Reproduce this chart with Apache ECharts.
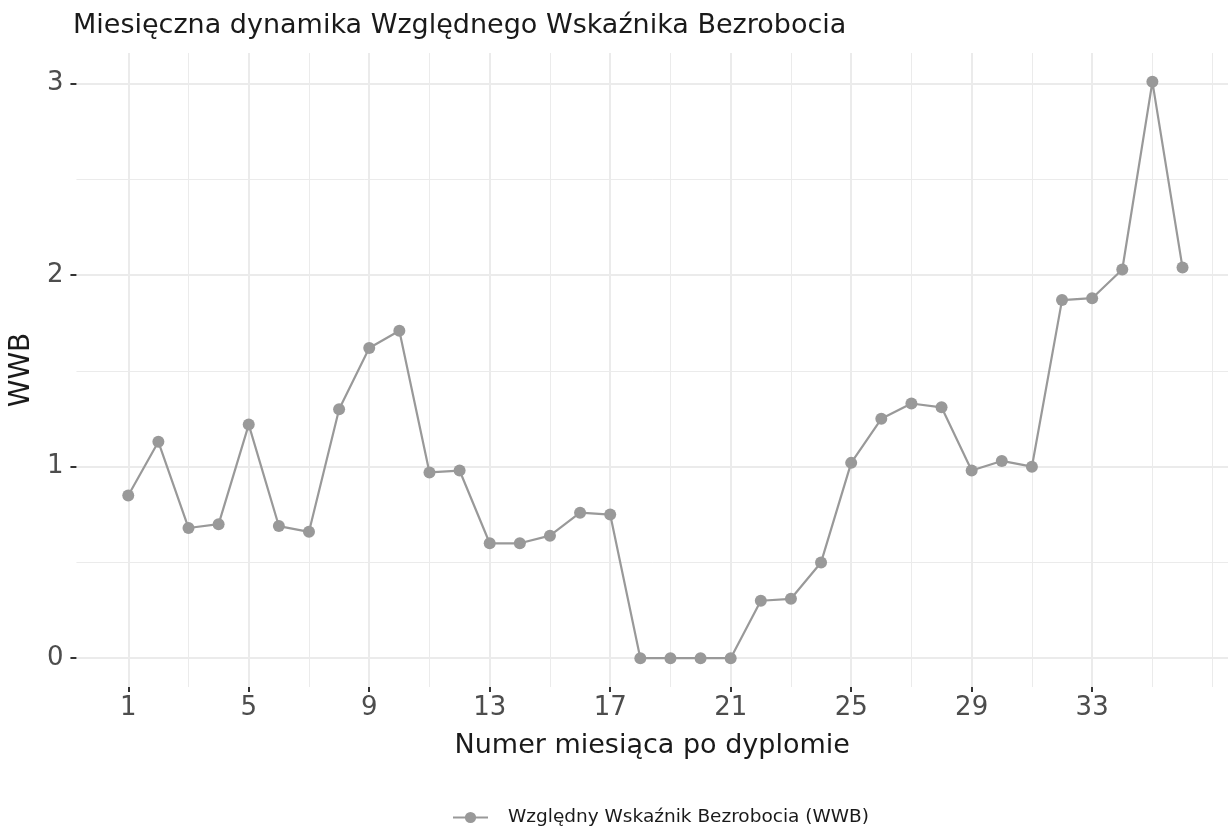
<!DOCTYPE html>
<html style="height: 100%">
<head>
    <meta charset="utf-8">
    <script type="text/javascript" src="https://cdn.jsdelivr.net/npm/echarts@6/dist/echarts.min.js"></script>
</head>
<body style="height: 100%; margin: 0; background: #fff">
<div id="container" style="width: 1228px; height: 826px"></div>
<script type="text/javascript">
    var months = [1, 2, 3, 4, 5, 6, 7, 8, 9, 10, 11, 12, 13, 14, 15, 16, 17, 18,
        19, 20, 21, 22, 23, 24, 25, 26, 27, 28, 29, 30, 31, 32, 33, 34, 35, 36];
    var wwb = [0.85, 1.13, 0.68, 0.70, 1.22, 0.69, 0.66, 1.30, 1.62, 1.71, 0.97, 0.98,
        0.60, 0.60, 0.64, 0.76, 0.75, 0, 0, 0, 0, 0.30, 0.31, 0.50,
        1.02, 1.25, 1.33, 1.31, 0.98, 1.03, 1.00, 1.87, 1.88, 2.03, 3.01, 2.04];
    var xMajor = [1, 5, 9, 13, 17, 21, 25, 29, 33];
    var xMinor = [3, 7, 11, 15, 19, 23, 27, 31, 35, 37];
    var yMajor = [0, 1, 2, 3];
    var yMinor = [0.5, 1.5, 2.5];

    var font = "DejaVu Sans";
    var gridColor = "#ebebeb";
    var seriesName = "Względny Wskaźnik Bezrobocia (WWB)";

    var dom = document.getElementById("container");
    var myChart = echarts.init(dom, null, {renderer: "canvas"});

    var points = [];
    for (var i = 0; i < months.length; i++) {
        points.push([months[i], wwb[i]]);
    }

    // axis used only to draw the thin minor grid lines
    function minorAxis(values, min, max, pos) {
        return {
            type: "value", position: pos, min: min, max: max,
            axisLine: {show: false, onZero: false},
            axisTick: {show: false, customValues: values},
            axisLabel: {show: false},
            splitLine: {show: true, lineStyle: {color: gridColor, width: 1}}
        };
    }

    var option = {
        animation: false,
        textStyle: {fontFamily: font},
        title: {
            text: "Miesięczna dynamika Względnego Wskaźnika Bezrobocia",
            left: 73, top: 12, padding: 0,
            textStyle: {fontFamily: font, fontSize: 27, fontWeight: "normal", color: "#1a1a1a"}
        },
        legend: {
            top: 808,
            left: 452,
            padding: 0,
            itemWidth: 35,
            itemHeight: 14,
            textStyle: {fontFamily: font, fontSize: 18.5, color: "#1a1a1a", padding: [0, 0, 0, 15]},
            data: [seriesName]
        },
        grid: {left: 75, right: 0, top: 53, bottom: 139, containLabel: false},
        xAxis: [{
            type: "value", min: -0.72, max: 37.51,
            name: "Numer miesiąca po dyplomie",
            nameLocation: "middle", nameGap: 45,
            nameTextStyle: {fontFamily: font, fontSize: 27, color: "#1a1a1a"},
            axisLine: {show: false, onZero: false},
            axisTick: {show: true, customValues: xMajor, length: 5, lineStyle: {color: "#333", width: 2}},
            axisLabel: {customValues: xMajor, margin: 8, fontSize: 26, color: "#4d4d4d", fontFamily: font},
            splitLine: {show: true, lineStyle: {color: gridColor, width: 2}}
        }, minorAxis(xMinor, -0.72, 37.51, "bottom")],
        yAxis: [{
            type: "value", min: -0.1505, max: 3.1605,
            name: "WWB",
            nameLocation: "middle", nameGap: 40,
            nameTextStyle: {fontFamily: font, fontSize: 28, color: "#1a1a1a"},
            axisLine: {show: false, onZero: false},
            axisTick: {show: true, customValues: yMajor, length: 6, lineStyle: {color: "#333", width: 2}},
            axisLabel: {customValues: yMajor, margin: 13, fontSize: 26, color: "#4d4d4d", fontFamily: font},
            splitLine: {show: true, lineStyle: {color: gridColor, width: 2}}
        }, minorAxis(yMinor, -0.1505, 3.1605, "left")],
        series: [{
            name: seriesName,
            type: "line",
            xAxisIndex: 0,
            yAxisIndex: 0,
            data: points,
            symbol: "circle",
            symbolSize: 12,
            showAllSymbol: true,
            lineStyle: {color: "#999999", width: 2.2},
            itemStyle: {color: "#999999"},
            z: 5
        }]
    };

    myChart.setOption(option);
</script>
</body>
</html>
